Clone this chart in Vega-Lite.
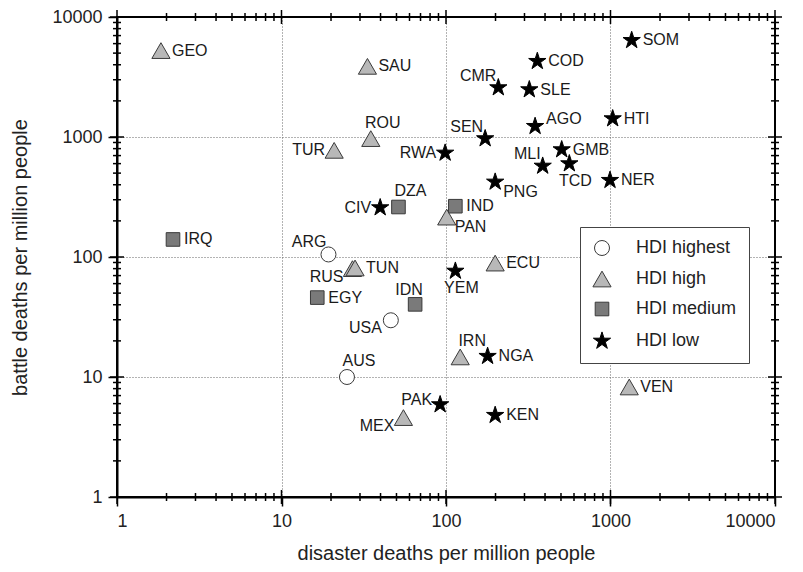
{
  "$schema": "https://vega.github.io/schema/vega-lite/v6.json",
  "width": 658,
  "height": 480,
  "autosize": {"type": "none"},
  "padding": {"left": 117, "top": 17, "right": 28, "bottom": 75},
  "background": "white",
  "config": {
    "view": {"stroke": null},
    "font": "Liberation Sans",
    "axis": {"labelFont": "Liberation Sans", "titleFont": "Liberation Sans", "labelColor": "#222222", "titleColor": "#222222", "titleFontWeight": "normal", "tickColor": "black", "domainColor": "black"},
    "legend": {"orient": "none", "legendX": 463, "legendY": 210, "strokeColor": "#444444", "fillColor": "#ffffff", "padding": 12, "rowPadding": 11, "labelFontSize": 18, "labelOffset": 24, "symbolStrokeWidth": 1, "labelColor": "#222222", "labelFont": "Liberation Sans"}
  },
  "datasets": {
    "pts": [
      {"c": "ARG", "hdi": "HDI highest", "x": 19.3, "y": 105},
      {"c": "USA", "hdi": "HDI highest", "x": 46.2, "y": 29.7},
      {"c": "AUS", "hdi": "HDI highest", "x": 25.0, "y": 10.0},
      {"c": "GEO", "hdi": "HDI high", "x": 1.85, "y": 5250},
      {"c": "SAU", "hdi": "HDI high", "x": 33.3, "y": 3880},
      {"c": "ROU", "hdi": "HDI high", "x": 34.9, "y": 970},
      {"c": "TUR", "hdi": "HDI high", "x": 20.9, "y": 774},
      {"c": "RUS", "hdi": "HDI high", "x": 27.0, "y": 80},
      {"c": "TUN", "hdi": "HDI high", "x": 28.0, "y": 81},
      {"c": "PAN", "hdi": "HDI high", "x": 101, "y": 215},
      {"c": "ECU", "hdi": "HDI high", "x": 199, "y": 89},
      {"c": "IRN", "hdi": "HDI high", "x": 122, "y": 14.7},
      {"c": "MEX", "hdi": "HDI high", "x": 55.1, "y": 4.59},
      {"c": "VEN", "hdi": "HDI high", "x": 1300, "y": 8.26},
      {"c": "IRQ", "hdi": "HDI medium", "x": 2.19, "y": 140},
      {"c": "DZA", "hdi": "HDI medium", "x": 51.4, "y": 261},
      {"c": "IND", "hdi": "HDI medium", "x": 114, "y": 265},
      {"c": "EGY", "hdi": "HDI medium", "x": 16.5, "y": 45.9},
      {"c": "IDN", "hdi": "HDI medium", "x": 64.9, "y": 40.3},
      {"c": "CIV", "hdi": "HDI low", "x": 39.8, "y": 258},
      {"c": "RWA", "hdi": "HDI low", "x": 98.8, "y": 736},
      {"c": "SEN", "hdi": "HDI low", "x": 173, "y": 970},
      {"c": "CMR", "hdi": "HDI low", "x": 208, "y": 2580},
      {"c": "COD", "hdi": "HDI low", "x": 359, "y": 4275},
      {"c": "SLE", "hdi": "HDI low", "x": 321, "y": 2483},
      {"c": "AGO", "hdi": "HDI low", "x": 348, "y": 1228},
      {"c": "SOM", "hdi": "HDI low", "x": 1345, "y": 6390},
      {"c": "HTI", "hdi": "HDI low", "x": 1031, "y": 1423},
      {"c": "GMB", "hdi": "HDI low", "x": 505, "y": 785},
      {"c": "MLI", "hdi": "HDI low", "x": 387, "y": 573},
      {"c": "TCD", "hdi": "HDI low", "x": 562, "y": 600},
      {"c": "NER", "hdi": "HDI low", "x": 993, "y": 436},
      {"c": "PNG", "hdi": "HDI low", "x": 199, "y": 422},
      {"c": "YEM", "hdi": "HDI low", "x": 114, "y": 76.4},
      {"c": "NGA", "hdi": "HDI low", "x": 179, "y": 14.9},
      {"c": "PAK", "hdi": "HDI low", "x": 92.1, "y": 5.89},
      {"c": "KEN", "hdi": "HDI low", "x": 199, "y": 4.8}
    ],
    "major": [{"v": 1}, {"v": 10}, {"v": 100}, {"v": 1000}, {"v": 10000}],
    "minor": [{"v": 2}, {"v": 3}, {"v": 4}, {"v": 5}, {"v": 6}, {"v": 7}, {"v": 8}, {"v": 9}, {"v": 20}, {"v": 30}, {"v": 40}, {"v": 50}, {"v": 60}, {"v": 70}, {"v": 80}, {"v": 90}, {"v": 200}, {"v": 300}, {"v": 400}, {"v": 500}, {"v": 600}, {"v": 700}, {"v": 800}, {"v": 900}, {"v": 2000}, {"v": 3000}, {"v": 4000}, {"v": 5000}, {"v": 6000}, {"v": 7000}, {"v": 8000}, {"v": 9000}],
    "frame": [{"x0": 1, "x1": 10000, "y0": 1, "y1": 10000}]
  },
  "data": {"name": "pts"},
  "layer": [
    {
      "mark": {"type": "point", "filled": true, "opacity": 1, "strokeWidth": 1},
      "encoding": {
        "x": {"field": "x", "type": "quantitative", "scale": {"type": "log", "domain": [1, 10000], "nice": false},
          "axis": {"orient": "bottom", "values": [1, 10, 100, 1000, 10000], "format": "d", "labelFontSize": 18, "labelPadding": 6, "tickSize": 9, "tickWidth": 1.5, "domain": true, "domainWidth": 2, "grid": true, "gridColor": "#666666", "gridDash": [1, 2], "gridWidth": 1, "title": "disaster deaths per million people", "titleFontSize": 20, "titleX": 329, "titleY": 56, "titleBaseline": "middle", "titleAlign": "center"}},
        "y": {"field": "y", "type": "quantitative", "scale": {"type": "log", "domain": [1, 10000], "nice": false},
          "axis": {"orient": "left", "values": [1, 10, 100, 1000, 10000], "format": "d", "labelFontSize": 18, "labelPadding": 6, "tickSize": 9, "tickWidth": 1.5, "domain": true, "domainWidth": 2, "grid": true, "gridColor": "#666666", "gridDash": [1, 2], "gridWidth": 1, "title": "battle deaths per million people", "titleFontSize": 20, "titleX": -97, "titleY": 240, "titleBaseline": "middle", "titleAlign": "center", "titleAngle": -90}},
        "shape": {"field": "hdi", "type": "nominal", "scale": {"domain": ["HDI highest", "HDI high", "HDI medium", "HDI low"], "range": ["circle", "triangle-up", "square", "M0,-1L0.225,-0.309L0.951,-0.309L0.363,0.118L0.588,0.809L0,0.382L-0.588,0.809L-0.363,0.118L-0.951,-0.309L-0.225,-0.309Z"]}, "legend": {"title": null}},
        "fill": {"field": "hdi", "type": "nominal", "scale": {"domain": ["HDI highest", "HDI high", "HDI medium", "HDI low"], "range": ["#ffffff", "#b8b8b8", "#7a7a7a", "#000000"]}, "legend": {"title": null}},
        "stroke": {"field": "hdi", "type": "nominal", "scale": {"domain": ["HDI highest", "HDI high", "HDI medium", "HDI low"], "range": ["#3a3a3a", "#3a3a3a", "#3a3a3a", "#000000"]}, "legend": {"title": null}},
        "size": {"field": "hdi", "type": "nominal", "scale": {"type": "ordinal", "domain": ["HDI highest", "HDI high", "HDI medium", "HDI low"], "range": [225, 330, 185, 330]}, "legend": {"title": null}}
      }
    },
    {
      "data": {"name": "frame"},
      "mark": {"type": "rect", "filled": false, "stroke": "black", "strokeWidth": 2},
      "encoding": {
        "x": {"field": "x0", "type": "quantitative", "axis": null},
        "x2": {"field": "x1"},
        "y": {"field": "y0", "type": "quantitative", "axis": null},
        "y2": {"field": "y1"}
      }
    },
    {
      "data": {"name": "major"},
      "mark": {"type": "tick", "orient": "vertical", "size": 14, "thickness": 1.5, "color": "black", "opacity": 1},
      "encoding": {"x": {"field": "v", "type": "quantitative", "axis": null}, "y": {"datum": 1, "type": "quantitative", "axis": null}}
    },
    {
      "data": {"name": "major"},
      "mark": {"type": "tick", "orient": "vertical", "size": 14, "thickness": 1.5, "color": "black", "opacity": 1},
      "encoding": {"x": {"field": "v", "type": "quantitative", "axis": null}, "y": {"datum": 10000, "type": "quantitative", "axis": null}}
    },
    {
      "data": {"name": "minor"},
      "mark": {"type": "tick", "orient": "vertical", "size": 8, "thickness": 1.5, "color": "black", "opacity": 1},
      "encoding": {"x": {"field": "v", "type": "quantitative", "axis": null}, "y": {"datum": 1, "type": "quantitative", "axis": null}}
    },
    {
      "data": {"name": "minor"},
      "mark": {"type": "tick", "orient": "vertical", "size": 8, "thickness": 1.5, "color": "black", "opacity": 1},
      "encoding": {"x": {"field": "v", "type": "quantitative", "axis": null}, "y": {"datum": 10000, "type": "quantitative", "axis": null}}
    },
    {
      "data": {"name": "major"},
      "mark": {"type": "tick", "orient": "horizontal", "size": 14, "thickness": 1.5, "color": "black", "opacity": 1},
      "encoding": {"y": {"field": "v", "type": "quantitative", "axis": null}, "x": {"datum": 1, "type": "quantitative", "axis": null}}
    },
    {
      "data": {"name": "major"},
      "mark": {"type": "tick", "orient": "horizontal", "size": 14, "thickness": 1.5, "color": "black", "opacity": 1},
      "encoding": {"y": {"field": "v", "type": "quantitative", "axis": null}, "x": {"datum": 10000, "type": "quantitative", "axis": null}}
    },
    {
      "data": {"name": "minor"},
      "mark": {"type": "tick", "orient": "horizontal", "size": 8, "thickness": 1.5, "color": "black", "opacity": 1},
      "encoding": {"y": {"field": "v", "type": "quantitative", "axis": null}, "x": {"datum": 1, "type": "quantitative", "axis": null}}
    },
    {
      "data": {"name": "minor"},
      "mark": {"type": "tick", "orient": "horizontal", "size": 8, "thickness": 1.5, "color": "black", "opacity": 1},
      "encoding": {"y": {"field": "v", "type": "quantitative", "axis": null}, "x": {"datum": 10000, "type": "quantitative", "axis": null}}
    },
    {
      "transform": [{"filter": {"field": "c", "oneOf": ["GEO", "SAU", "IRQ", "TUN", "EGY", "SOM", "COD", "SLE", "HTI", "GMB", "NER", "IND", "ECU", "NGA", "VEN", "KEN"]}}],
      "mark": {"type": "text", "align": "left", "baseline": "middle", "dx": 11, "fontSize": 16, "font": "Liberation Sans", "color": "#1a1a1a"},
      "encoding": {"x": {"field": "x", "type": "quantitative", "axis": null}, "y": {"field": "y", "type": "quantitative", "axis": null}, "text": {"field": "c"}}
    },
    {
      "transform": [{"filter": {"field": "c", "oneOf": ["AGO"]}}],
      "mark": {"type": "text", "align": "left", "baseline": "middle", "dx": 11, "dy": -7, "fontSize": 16, "font": "Liberation Sans", "color": "#1a1a1a"},
      "encoding": {"x": {"field": "x", "type": "quantitative", "axis": null}, "y": {"field": "y", "type": "quantitative", "axis": null}, "text": {"field": "c"}}
    },
    {
      "transform": [{"filter": {"field": "c", "oneOf": ["TUR", "RWA", "CIV"]}}],
      "mark": {"type": "text", "align": "right", "baseline": "middle", "dx": -9, "fontSize": 16, "font": "Liberation Sans", "color": "#1a1a1a"},
      "encoding": {"x": {"field": "x", "type": "quantitative", "axis": null}, "y": {"field": "y", "type": "quantitative", "axis": null}, "text": {"field": "c"}}
    },
    {
      "transform": [{"filter": {"field": "c", "oneOf": ["PAK"]}}],
      "mark": {"type": "text", "align": "right", "baseline": "middle", "dx": -8, "dy": -5, "fontSize": 16, "font": "Liberation Sans", "color": "#1a1a1a"},
      "encoding": {"x": {"field": "x", "type": "quantitative", "axis": null}, "y": {"field": "y", "type": "quantitative", "axis": null}, "text": {"field": "c"}}
    },
    {
      "transform": [{"filter": {"field": "c", "oneOf": ["ARG", "CMR", "SEN", "MLI"]}}],
      "mark": {"type": "text", "align": "right", "baseline": "middle", "dx": -2, "dy": -12, "fontSize": 16, "font": "Liberation Sans", "color": "#1a1a1a"},
      "encoding": {"x": {"field": "x", "type": "quantitative", "axis": null}, "y": {"field": "y", "type": "quantitative", "axis": null}, "text": {"field": "c"}}
    },
    {
      "transform": [{"filter": {"field": "c", "oneOf": ["RUS", "USA", "MEX"]}}],
      "mark": {"type": "text", "align": "right", "baseline": "middle", "dx": -9, "dy": 8, "fontSize": 16, "font": "Liberation Sans", "color": "#1a1a1a"},
      "encoding": {"x": {"field": "x", "type": "quantitative", "axis": null}, "y": {"field": "y", "type": "quantitative", "axis": null}, "text": {"field": "c"}}
    },
    {
      "transform": [{"filter": {"field": "c", "oneOf": ["ROU", "DZA", "AUS", "IRN"]}}],
      "mark": {"type": "text", "align": "center", "baseline": "middle", "dx": 12, "dy": -16, "fontSize": 16, "font": "Liberation Sans", "color": "#1a1a1a"},
      "encoding": {"x": {"field": "x", "type": "quantitative", "axis": null}, "y": {"field": "y", "type": "quantitative", "axis": null}, "text": {"field": "c"}}
    },
    {
      "transform": [{"filter": {"field": "c", "oneOf": ["IDN"]}}],
      "mark": {"type": "text", "align": "center", "baseline": "middle", "dx": -6, "dy": -14, "fontSize": 16, "font": "Liberation Sans", "color": "#1a1a1a"},
      "encoding": {"x": {"field": "x", "type": "quantitative", "axis": null}, "y": {"field": "y", "type": "quantitative", "axis": null}, "text": {"field": "c"}}
    },
    {
      "transform": [{"filter": {"field": "c", "oneOf": ["TCD", "YEM"]}}],
      "mark": {"type": "text", "align": "center", "baseline": "middle", "dx": 6, "dy": 17, "fontSize": 16, "font": "Liberation Sans", "color": "#1a1a1a"},
      "encoding": {"x": {"field": "x", "type": "quantitative", "axis": null}, "y": {"field": "y", "type": "quantitative", "axis": null}, "text": {"field": "c"}}
    },
    {
      "transform": [{"filter": {"field": "c", "oneOf": ["PNG", "PAN"]}}],
      "mark": {"type": "text", "align": "left", "baseline": "middle", "dx": 8, "dy": 10, "fontSize": 16, "font": "Liberation Sans", "color": "#1a1a1a"},
      "encoding": {"x": {"field": "x", "type": "quantitative", "axis": null}, "y": {"field": "y", "type": "quantitative", "axis": null}, "text": {"field": "c"}}
    }
  ],
  "resolve": {"axis": {"x": "independent", "y": "independent"}}
}
